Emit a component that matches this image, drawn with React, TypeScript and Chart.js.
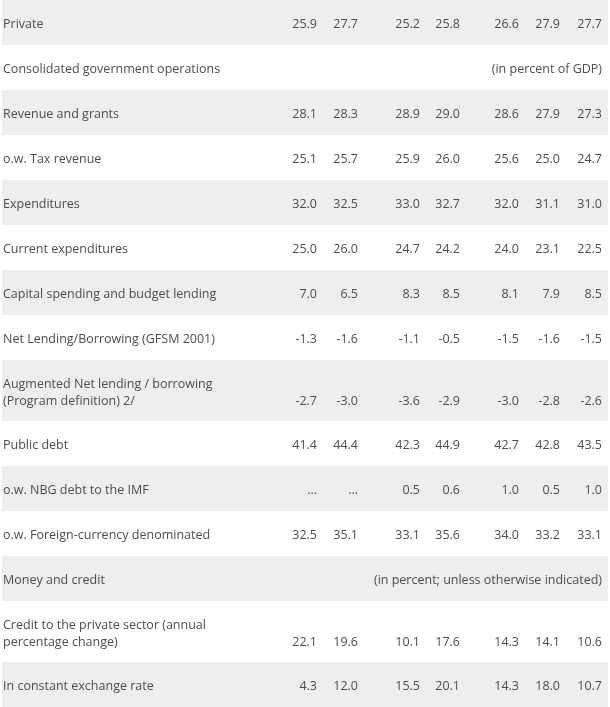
import React, { useEffect, useRef } from "react";
import { Chart, registerables } from "chart.js";

Chart.register(...registerables);

// ---- data ----
const rowLabels: string[][] = [
  ["Private"],
  ["Consolidated government operations"],
  ["Revenue and grants"],
  ["o.w. Tax revenue"],
  ["Expenditures"],
  ["Current expenditures"],
  ["Capital spending and budget lending"],
  ["Net Lending/Borrowing (GFSM 2001)"],
  ["Augmented Net lending / borrowing", "(Program definition) 2/"],
  ["Public debt"],
  ["o.w. NBG debt to the IMF"],
  ["o.w. Foreign-currency denominated"],
  ["Money and credit"],
  ["Credit to the private sector (annual", "percentage change)"],
  ["In constant exchange rate"],
];

const privateVals = [25.9, 27.7, 25.2, 25.8, 26.6, 27.9, 27.7];
const revenueGrants = [28.1, 28.3, 28.9, 29.0, 28.6, 27.9, 27.3];
const taxRevenue = [25.1, 25.7, 25.9, 26.0, 25.6, 25.0, 24.7];
const expenditures = [32.0, 32.5, 33.0, 32.7, 32.0, 31.1, 31.0];
const currentExp = [25.0, 26.0, 24.7, 24.2, 24.0, 23.1, 22.5];
const capitalSpending = [7.0, 6.5, 8.3, 8.5, 8.1, 7.9, 8.5];
const netLending = [-1.3, -1.6, -1.1, -0.5, -1.5, -1.6, -1.5];
const augmentedNetLending = [-2.7, -3.0, -3.6, -2.9, -3.0, -2.8, -2.6];
const publicDebt = [41.4, 44.4, 42.3, 44.9, 42.7, 42.8, 43.5];
const nbgDebtImf: (number | null)[] = [null, null, 0.5, 0.6, 1.0, 0.5, 1.0];
const foreignCurrencyDebt = [32.5, 35.1, 33.1, 35.6, 34.0, 33.2, 33.1];
const creditPrivate = [22.1, 19.6, 10.1, 17.6, 14.3, 14.1, 10.6];
const creditConstantRate = [4.3, 12.0, 15.5, 20.1, 14.3, 18.0, 10.7];

const sectionNotes: Record<number, string> = {
  1: "(in percent of GDP)",
  12: "(in percent; unless otherwise indicated)",
};

const rowValues: ((number | null)[] | null)[] = [
  privateVals,
  null,
  revenueGrants,
  taxRevenue,
  expenditures,
  currentExp,
  capitalSpending,
  netLending,
  augmentedNetLending,
  publicDebt,
  nbgDebtImf,
  foreignCurrencyDebt,
  null,
  creditPrivate,
  creditConstantRate,
];

// ---- layout (not data) ----
const W = 610;
const H = 707;
const ROW_H = 45;
const TALL_H = 61;
const LINE_GAP = 17;
const TEXT_DY = 2;
const BAND_LEFT = 2;
const BAND_RIGHT = 608;
const LABEL_X = 3;
const COL_RIGHT = [317, 358, 420, 460, 519, 560, 602];
const FONT = '400 12.5px "Open Sans"';
const TEXT_COLOR = "#4d4d4d";
const BAND_COLOR = "#eeeeee";

const rowHeights = rowLabels.map((l) => (l.length > 1 ? TALL_H : ROW_H));
const rowTops: number[] = [];
rowHeights.reduce((acc, h) => {
  rowTops.push(acc);
  return acc + h;
}, 0);
const totalH = rowHeights.reduce((a, b) => a + b, 0);

const fmt = (v: number | null) => (v === null ? "..." : v.toFixed(1));

const tablePlugin = {
  id: "tablePlugin",
  beforeDatasetsDraw(chart: any) {
    const { ctx } = chart;
    const xs = chart.scales.x;
    const ys = chart.scales.y;
    ctx.save();
    rowLabels.forEach((lines, i) => {
      const y0 = ys.getPixelForValue(rowTops[i]);
      const y1 = ys.getPixelForValue(rowTops[i] + rowHeights[i]);
      const mid = (y0 + y1) / 2 + TEXT_DY;
      if (i % 2 === 0) {
        ctx.fillStyle = BAND_COLOR;
        const xl = xs.getPixelForValue(BAND_LEFT);
        const xr = xs.getPixelForValue(BAND_RIGHT);
        ctx.fillRect(xl, y0, xr - xl, y1 - y0);
      }
      ctx.fillStyle = TEXT_COLOR;
      ctx.font = FONT;
      ctx.textBaseline = "middle";
      ctx.textAlign = "left";
      const n = lines.length;
      lines.forEach((t, k) => {
        const ly = mid + (k - (n - 1) / 2) * LINE_GAP;
        ctx.fillText(t, xs.getPixelForValue(LABEL_X), ly);
      });
      const valY = mid + ((n - 1) / 2) * LINE_GAP;
      ctx.textAlign = "right";
      const vals = rowValues[i];
      if (vals) {
        vals.forEach((v, c) => {
          ctx.fillText(fmt(v), xs.getPixelForValue(COL_RIGHT[c]), valY);
        });
      } else if (sectionNotes[i]) {
        ctx.fillText(sectionNotes[i], xs.getPixelForValue(COL_RIGHT[COL_RIGHT.length - 1]), valY);
      }
    });
    ctx.restore();
  },
};

export default function App() {
  const ref = useRef<HTMLCanvasElement | null>(null);
  useEffect(() => {
    document.body.style.margin = "0";
    const canvas = ref.current;
    if (!canvas) return;
    const chart = new Chart(canvas, {
      type: "scatter",
      data: { datasets: [{ data: [], pointRadius: 0 }] },
      options: {
        animation: false,
        responsive: false,
        maintainAspectRatio: false,
        layout: { padding: 0 },
        plugins: { legend: { display: false }, tooltip: { enabled: false } },
        scales: {
          x: { type: "linear", min: 0, max: W, display: false },
          y: { type: "linear", min: 0, max: totalH, reverse: true, display: false },
        },
      },
      plugins: [tablePlugin],
    });
    return () => chart.destroy();
  }, []);
  return (
    <div style={{ width: W, height: H, background: "#fff" }}>
      <canvas ref={ref} width={W} height={H} style={{ display: "block" }} />
    </div>
  );
}
